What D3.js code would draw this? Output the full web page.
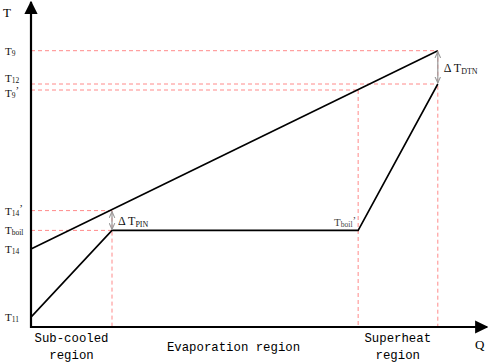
<!DOCTYPE html>
<html>
<head>
<meta charset="utf-8">
<script src="https://cdn.jsdelivr.net/npm/d3@7"></script>
<style>
  body { margin: 0; background: #fff; }
  text { font-family: "Liberation Serif", serif; }
  .region { font-family: "Liberation Mono", monospace; }
</style>
</head>
<body>
<div id="chart"></div>
<script>
// T levels (arbitrary units) and their axis labels: [main, subscript, prime]
const tLabels = [
  ['T', '9', ''], ['T', '12', ''], ['T', '9', '\u2019'],
  ['T', '14', '\u2019'], ['T', 'boil', ''], ['T', '14', ''], ['T', '11', '']
]
const tValues = [92.1, 81.0, 79.0, 38.8, 32.2, 26.0, 3.3]

// Q positions of the region boundaries
const qBounds = [18, 72.7, 90.4]

// hot stream line (T14 -> T9) and cold stream line (T11 -> Tboil -> Tboil' -> T12)
const hotQ = [0, 90.4]
const hotT = [26.0, 92.1]
const coldQ = [0, 18, 72.7, 90.4]
const coldT = [3.3, 32.2, 32.2, 81.0]

// dashed guides: T value and the Q where each one stops
const guideT = [92.1, 81.0, 79.0, 38.8, 32.2]
const guideQ = [90.4, 90.4, 72.7, 18, 18]
// vertical guides: Q and the top T
const vGuideQ = qBounds
const vGuideT = [38.8, 79.0, 92.1]

const regionNames = [['Sub-cooled', 'region'], ['Evaporation region'], ['Superheat', 'region']]
const regionQ = [9, 45, 81.5]

const dimensions = { width: 491, height: 363 }
const x = d3.scaleLinear().domain([0, 100]).range([31, 481])
const y = d3.scaleLinear().domain([0, 100]).range([327, 27])

const svg = d3.select('#chart').append('svg')
  .attr('width', dimensions.width)
  .attr('height', dimensions.height)

const defs = svg.append('defs')
defs.append('marker').attr('id', 'axisHead')
  .attr('viewBox', '0 0 10 10').attr('refX', 9).attr('refY', 5)
  .attr('markerWidth', 6).attr('markerHeight', 6).attr('orient', 'auto')
  .attr('markerUnits', 'strokeWidth')
  .append('path').attr('d', 'M0,0 L10,5 L0,10 z').attr('fill', '#000')
defs.append('marker').attr('id', 'grayHead')
  .attr('viewBox', '0 0 10 10').attr('refX', 9).attr('refY', 5)
  .attr('markerWidth', 7).attr('markerHeight', 7).attr('orient', 'auto-start-reverse')
  .attr('markerUnits', 'userSpaceOnUse')
  .append('path').attr('d', 'M0,1 L9,5 L0,9').attr('fill', 'none').attr('stroke', '#999').attr('stroke-width', 1.5)

// dashed guides
const dash = svg.append('g')
  .attr('stroke', '#ff8a8a').attr('stroke-width', 1).attr('stroke-dasharray', '4,3')
guideT.forEach((t, i) => {
  dash.append('line')
    .attr('x1', x(0)).attr('x2', x(guideQ[i]))
    .attr('y1', y(t)).attr('y2', y(t))
})
vGuideQ.forEach((q, i) => {
  dash.append('line')
    .attr('x1', x(q)).attr('x2', x(q))
    .attr('y1', y(vGuideT[i])).attr('y2', y(0))
})

// stream lines
const line = d3.line().x(d => x(d[0])).y(d => y(d[1]))
svg.append('path')
  .attr('d', line(d3.zip(hotQ, hotT)))
  .attr('fill', 'none').attr('stroke', '#000').attr('stroke-width', 1.6)
svg.append('path')
  .attr('d', line(d3.zip(coldQ, coldT)))
  .attr('fill', 'none').attr('stroke', '#000').attr('stroke-width', 1.6)

// delta arrows
function deltaArrow (q, t0, t1) {
  svg.append('line')
    .attr('x1', x(q)).attr('x2', x(q))
    .attr('y1', y(t0) + 1).attr('y2', y(t1) - 1)
    .attr('stroke', '#999').attr('stroke-width', 1.2)
    .attr('marker-start', 'url(#grayHead)').attr('marker-end', 'url(#grayHead)')
}
deltaArrow(18, 38.8, 32.2)
deltaArrow(90.4, 92.1, 81.0)

function deltaLabel (q, t, sub) {
  const tx = svg.append('text')
    .attr('x', x(q) + 6).attr('y', y(t) + 4)
    .attr('font-size', 12).attr('fill', '#111')
  tx.append('tspan').text('\u0394 T')
  tx.append('tspan').attr('font-size', 8).attr('dy', 2).text(sub)
}
deltaLabel(18, 35.5, 'PIN')
deltaLabel(90.4, 86.5, 'DTN')

// Tboil' label
const tb = svg.append('text')
  .attr('x', x(72.7) - 2).attr('y', y(32.2) - 4)
  .attr('text-anchor', 'end').attr('font-size', 11).attr('fill', '#444')
tb.append('tspan').text('T')
tb.append('tspan').attr('font-size', 7.5).attr('dy', 1).text('boil')
tb.append('tspan').attr('dy', -3).text('\u2019')

// axes
svg.append('line')
  .attr('x1', x(0)).attr('x2', x(0)).attr('y1', y(0) + 1).attr('y2', 2)
  .attr('stroke', '#000').attr('stroke-width', 2.2).attr('marker-end', 'url(#axisHead)')
svg.append('line')
  .attr('x1', x(0) - 1).attr('x2', 487).attr('y1', y(0)).attr('y2', y(0))
  .attr('stroke', '#000').attr('stroke-width', 2.2).attr('marker-end', 'url(#axisHead)')

// tick labels (T12 sits just above its guide, T9' just below)
const labelNudge = { 1: -6, 2: 3 }
tValues.forEach((t, i) => {
  const [m, s, p] = tLabels[i]
  const tx = svg.append('text')
    .attr('x', 5).attr('y', y(t) + 4 + (labelNudge[i] || 0))
    .attr('font-size', 11).attr('fill', '#111')
  tx.append('tspan').text(m)
  tx.append('tspan').attr('font-size', 7.5).attr('dy', 1).text(s)
  if (p) tx.append('tspan').attr('dy', -4).text(p)
})

svg.append('text').attr('x', 3).attr('y', 17).attr('font-size', 13).text('T')
svg.append('text').attr('x', 475).attr('y', 349).attr('font-size', 13).text('Q')

// region labels
regionNames.forEach((lines, i) => {
  const cy = lines.length === 2 ? 342 : 351
  lines.forEach((s, j) => {
    svg.append('text').attr('class', 'region')
      .attr('x', x(regionQ[i])).attr('y', cy + j * 17)
      .attr('text-anchor', 'middle').attr('font-size', 13.5)
      .attr('textLength', s.length * 7.4).attr('lengthAdjust', 'spacingAndGlyphs')
      .text(s)
  })
})
</script>
</body>
</html>
